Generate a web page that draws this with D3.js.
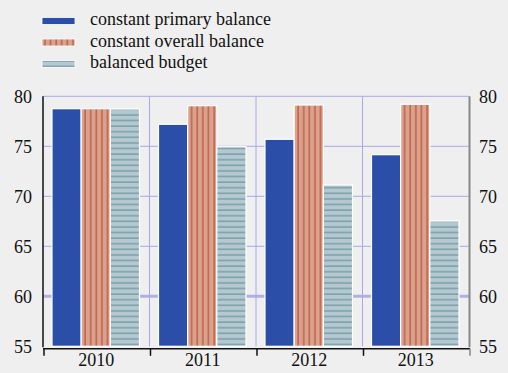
<!DOCTYPE html>
<html>
<head>
<meta charset="utf-8">
<script src="https://cdn.jsdelivr.net/npm/d3@7"></script>
<style>
  html, body { margin: 0; padding: 0; background: #efefef; }
  svg { display: block; }
  svg text { font-family: "Liberation Serif", "DejaVu Serif", "Times New Roman", serif; }
</style>
</head>
<body>
<div id="chart"></div>
<script>
// Debt ratio paths under three fiscal scenarios (grouped bars, dual y axis)
const YEARS = ["2010", "2011", "2012", "2013"];
const SERIES = ["constant primary balance", "constant overall balance", "balanced budget"];
const PRIMARY = [78.76, 77.2, 75.7, 74.16];
const OVERALL = [78.76, 79.06, 79.13, 79.2];
const BALANCED = [78.73, 74.96, 71.13, 67.53];
const Y_TICKS = [55, 60, 65, 70, 75, 80];

const VALUES = [PRIMARY, OVERALL, BALANCED];

const W = 508, H = 373;
const plot = { left: 43, right: 469, top: 96.3, bottom: 346.3 };
const FONT = '"Liberation Serif", "DejaVu Serif", "Times New Roman", serif';

const svg = d3.select("#chart").append("svg")
  .attr("width", W).attr("height", H)
  .style("background", "#efefef");

/* ── Patterns ── */
const defs = svg.append("defs");
const pRed = defs.append("pattern").attr("id", "pat-red")
  .attr("patternUnits", "userSpaceOnUse").attr("width", 5.6).attr("height", 10);
pRed.append("rect").attr("width", 5.6).attr("height", 10).attr("fill", "#d9a28c");
pRed.append("rect").attr("x", 2.4).attr("width", 1).attr("height", 10).attr("fill", "#b8402e");

const pTeal = defs.append("pattern").attr("id", "pat-teal")
  .attr("patternUnits", "userSpaceOnUse").attr("width", 10).attr("height", 5.6);
pTeal.append("rect").attr("width", 10).attr("height", 5.6).attr("fill", "#b5c8d0");
pTeal.append("rect").attr("y", 2.4).attr("width", 10).attr("height", 1).attr("fill", "#5b8b99");

const FILLS = ["#2b4ea8", "url(#pat-red)", "url(#pat-teal)"];

/* ── Scales ── */
const x = d3.scaleBand().domain(YEARS).range([plot.left, plot.right]).padding(0);
const bw = x.bandwidth();
const xs = d3.scaleBand().domain(d3.range(SERIES.length)).range([9, bw - 10]).padding(0);
const y = d3.scaleLinear().domain([55, 80]).range([plot.bottom, plot.top]);

/* ── Grid ── */
const grid = svg.append("g");
Y_TICKS.filter(v => v > 60).forEach(v => {
  grid.append("line")
    .attr("x1", plot.left).attr("x2", plot.right)
    .attr("y1", y(v)).attr("y2", y(v))
    .attr("stroke", "#a8a8e8").attr("stroke-width", 1);
});
grid.append("line")
  .attr("x1", plot.left).attr("x2", plot.right)
  .attr("y1", y(60)).attr("y2", y(60))
  .attr("stroke", "#b0b0e2").attr("stroke-width", 3);
YEARS.slice(1).forEach(yr => {
  grid.append("line")
    .attr("x1", x(yr)).attr("x2", x(yr))
    .attr("y1", plot.top).attr("y2", plot.bottom)
    .attr("stroke", "#a8a8e8").attr("stroke-width", 1);
});

/* ── Bars ── */
const groups = svg.append("g").selectAll("g")
  .data(YEARS).join("g")
  .attr("transform", d => `translate(${x(d)},0)`);

groups.selectAll("rect")
  .data((yr, i) => VALUES.map((arr, s) => ({ s, v: arr[i] })))
  .join("rect")
  .attr("x", d => xs(d.s))
  .attr("y", d => y(d.v))
  .attr("width", xs.bandwidth())
  .attr("height", d => y(55) - y(d.v))
  .attr("fill", d => FILLS[d.s])
  .attr("stroke", "#ffffff")
  .attr("stroke-width", 1.2);

/* ── Axes ── */
svg.append("line")
  .attr("x1", plot.left).attr("x2", plot.left)
  .attr("y1", plot.top).attr("y2", plot.bottom + 1)
  .attr("stroke", "#111").attr("stroke-width", 1.5);
svg.append("line")
  .attr("x1", plot.right + 0.5).attr("x2", plot.right + 0.5)
  .attr("y1", plot.top).attr("y2", plot.bottom + 1)
  .attr("stroke", "#888").attr("stroke-width", 2);

const yl = svg.append("g").attr("transform", `translate(${plot.left},0)`)
  .call(d3.axisLeft(y).tickValues(Y_TICKS).tickSize(0).tickPadding(11));
yl.select(".domain").remove();
yl.selectAll("text").style("font-family", FONT).attr("font-size", 18).attr("fill", "#111");

const yr = svg.append("g").attr("transform", `translate(${plot.right},0)`)
  .call(d3.axisRight(y).tickValues(Y_TICKS).tickSize(0).tickPadding(10));
yr.select(".domain").remove();
yr.selectAll("text").style("font-family", FONT).attr("font-size", 18).attr("fill", "#111");

const xb = svg.append("g").attr("transform", `translate(0,${plot.bottom + 2.5})`)
  .call(d3.axisBottom(x).tickSize(0).tickPadding(4));
xb.select(".domain").remove();
xb.selectAll("text").style("font-family", FONT).attr("font-size", 18).attr("fill", "#111");
xb.append("line")
  .attr("x1", plot.left).attr("x2", plot.right + 1)
  .attr("stroke", "#111").attr("stroke-width", 1.5);
YEARS.concat(["end"]).forEach(yrName => {
  const xv = yrName === "end" ? plot.right + 1 : x(yrName) + 1;
  xb.append("line")
    .attr("x1", xv).attr("x2", xv).attr("y1", 0).attr("y2", 7)
    .attr("stroke", yrName === "end" ? "#888" : "#111").attr("stroke-width", 1.5);
});

/* ── Legend ── */
const legend = svg.append("g").attr("transform", "translate(42,15)");
SERIES.forEach((name, i) => {
  const row = legend.append("g").attr("transform", `translate(0,${i * 21.5})`);
  row.append("rect").attr("x", 0).attr("y", 2.5).attr("width", 33).attr("height", 7)
    .attr("fill", FILLS[i]).attr("stroke", "#fff").attr("stroke-width", 0.8);
  row.append("text").attr("x", 48).attr("y", 10)
    .style("font-family", FONT).attr("font-size", 18).attr("fill", "#111")
    .text(name);
});
</script>
</body>
</html>
